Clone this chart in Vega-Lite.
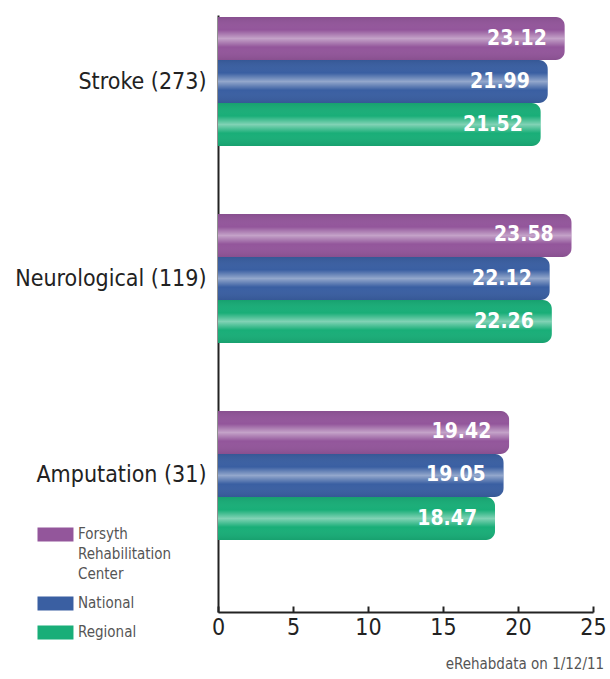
{
  "$schema": "https://vega.github.io/schema/vega-lite/v6.json",
  "width": 375,
  "height": 597,
  "autosize": {"type": "none"},
  "padding": {"left": 218, "top": 15, "right": 17, "bottom": 67},
  "background": "white",
  "config": {"view": {"stroke": null}, "font": "DejaVu Sans Condensed"},
  "title": {"text": "eRehabdata on 1/12/11", "orient": "bottom", "anchor": "end", "fontSize": 15, "fontWeight": "normal", "color": "#555555", "offset": 17, "dx": -2, "font": "DejaVu Sans Condensed"},
  "data": {"values": [
    {"condition": "Stroke (273)", "series": "Forsyth Rehabilitation Center", "value": 23.12},
    {"condition": "Stroke (273)", "series": "National", "value": 21.99},
    {"condition": "Stroke (273)", "series": "Regional", "value": 21.52},
    {"condition": "Neurological (119)", "series": "Forsyth Rehabilitation Center", "value": 23.58},
    {"condition": "Neurological (119)", "series": "National", "value": 22.12},
    {"condition": "Neurological (119)", "series": "Regional", "value": 22.26},
    {"condition": "Amputation (31)", "series": "Forsyth Rehabilitation Center", "value": 19.42},
    {"condition": "Amputation (31)", "series": "National", "value": 19.05},
    {"condition": "Amputation (31)", "series": "Regional", "value": 18.47}
  ]},
  "encoding": {
    "y": {
      "field": "condition", "type": "nominal",
      "sort": ["Stroke (273)", "Neurological (119)", "Amputation (31)"],
      "scale": {"paddingInner": 0.345, "paddingOuter": 0.1878, "align": 0.027},
      "axis": {"title": null, "domainWidth": 2, "domainColor": "#222222", "ticks": false, "labelFontSize": 23, "labelColor": "#222222", "labelPadding": 12, "labelLimit": 230, "labelFont": "DejaVu Sans Condensed"}
    },
    "yOffset": {
      "field": "series", "type": "nominal",
      "sort": ["Forsyth Rehabilitation Center", "National", "Regional"],
      "scale": {"paddingInner": 0, "paddingOuter": 0}
    },
    "x": {
      "field": "value", "type": "quantitative",
      "scale": {"domain": [0, 25], "nice": false},
      "axis": {"title": null, "values": [0, 5, 10, 15, 20, 25], "grid": false, "domainWidth": 2, "domainColor": "#222222", "tickColor": "#222222", "tickWidth": 2, "tickSize": -6, "labelFontSize": 23, "labelColor": "#222222", "labelPadding": 10, "labelFont": "DejaVu Sans Condensed", "labelFlush": false}
    }
  },
  "layer": [
    {
      "mark": {"type": "bar", "cornerRadiusEnd": 9},
      "encoding": {
        "color": {
          "field": "series", "type": "nominal",
          "sort": ["Forsyth Rehabilitation Center", "National", "Regional"],
          "scale": {"domain": ["Forsyth Rehabilitation Center", "National", "Regional"], "range": ["#93569b", "#3a5fa2", "#19ae78"]},
          "legend": {
            "title": null, "orient": "none", "legendX": -181, "legendY": 504,
            "symbolType": "M-1,0.14H4.14V2.14H-1Z", "symbolSize": 196, "symbolStrokeWidth": 0,
            "labelFontSize": 15, "labelColor": "#555555", "labelFont": "DejaVu Sans Condensed", "labelOffset": 26,
            "labelExpr": "datum.label == 'Forsyth Rehabilitation Center' ? ['Forsyth', 'Rehabilitation', 'Center'] : datum.label",
            "labelBaseline": "top", "labelLimit": 200, "rowPadding": 6, "padding": 0,
            "encode": {"labels": {"update": {"lineHeight": {"value": 20}}}}
          }
        }
      }
    },
    {
      "mark": {
        "type": "bar", "cornerRadiusEnd": 9,
        "fill": {"gradient": "linear", "x1": 0, "y1": 0, "x2": 0, "y2": 1, "stops": [
          {"offset": 0, "color": "rgba(0,0,0,0.08)"},
          {"offset": 0.3, "color": "rgba(255,255,255,0)"},
          {"offset": 0.5, "color": "rgba(255,255,255,0.45)"},
          {"offset": 0.7, "color": "rgba(255,255,255,0)"},
          {"offset": 1, "color": "rgba(0,0,0,0.08)"}
        ]}
      }
    },
    {
      "mark": {"type": "text", "align": "right", "baseline": "middle", "dx": -18, "fontSize": 21, "fontWeight": "bold", "color": "white", "font": "DejaVu Sans Condensed"},
      "encoding": {"text": {"field": "value", "type": "quantitative", "format": ".2f"}}
    }
  ]
}
